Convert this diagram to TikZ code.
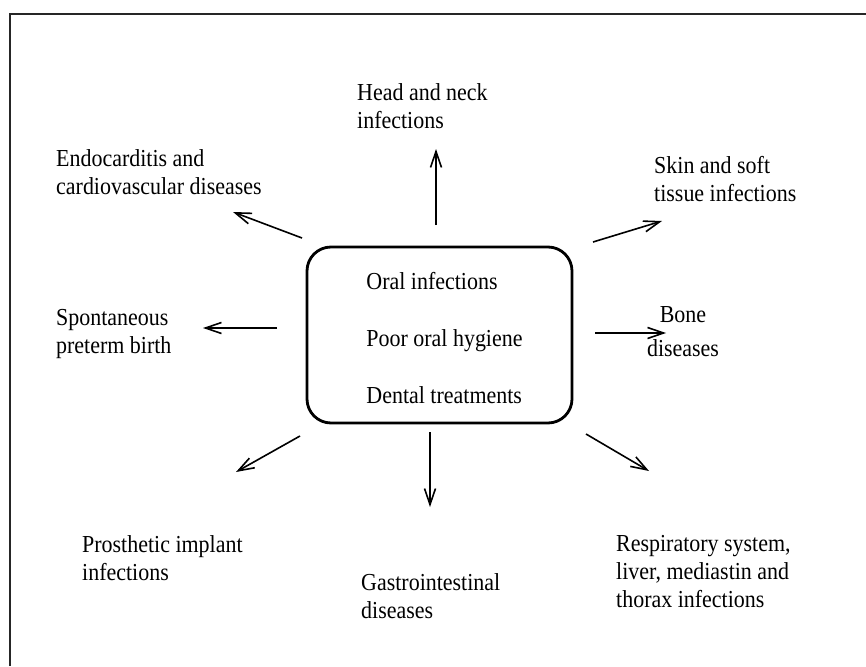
\documentclass[tikz,border=0pt]{standalone}
\usepackage{fontspec}
\setmainfont[FakeStretch=0.9]{Liberation Serif}
\usetikzlibrary{arrows.meta}
\begin{document}
\begin{tikzpicture}[x=1pt,y=-1pt,
  lbl/.style={inner sep=0pt, align=left, anchor=north west, font=\fontsize{24.4}{28}\selectfont},
  srcbox/.style={draw, rounded corners=24pt, line width=2.8pt, minimum width=265pt, minimum height=176pt,
    inner sep=0pt},
  srctext/.style={inner sep=0pt, align=left, font=\fontsize{24.4}{57}\selectfont},
  arr/.style={line width=1.6pt, -{Straight Barb[length=16pt,width=11pt,line width=1.6pt]}}]
\useasboundingbox (0,0) rectangle (866,666);
\draw[line width=2pt, black!85] (10,666) -- (10,14) -- (866,14);

\node[srcbox] (src) at (439.5,335) {};
\node[srctext] (srctxt) at (444.5,338) {Oral infections\\Poor oral hygiene\\Dental treatments};

\node[lbl] (head) at (357,83) {Head and neck\\infections};
\node[lbl] (endo) at (56,149) {Endocarditis and\\cardiovascular diseases};
\node[lbl] (skin) at (654,156) {Skin and soft\\tissue infections};
\node[lbl] (spont) at (56,309) {Spontaneous\\preterm birth};
\node[lbl, align=center, anchor=north, font=\fontsize{24.4}{34}\selectfont] (bone) at (683,306) {Bone\\diseases};
\node[lbl] (prost) at (82,535) {Prosthetic implant\\infections};
\node[lbl] (gastro) at (361,573) {Gastrointestinal\\diseases};
\node[lbl] (resp) at (616,535) {Respiratory system,\\liver, mediastin and\\thorax infections};

\coordinate (a1s) at (436,225); \coordinate (a1e) at (436,149);
\coordinate (a2s) at (302,238); \coordinate (a2e) at (233,212);
\coordinate (a3s) at (277,328); \coordinate (a3e) at (203,328);
\coordinate (a4s) at (593,242); \coordinate (a4e) at (662,221);
\coordinate (a5s) at (595,333); \coordinate (a5e) at (666,333);
\coordinate (a6s) at (300,436); \coordinate (a6e) at (236,472);
\coordinate (a7s) at (430,432); \coordinate (a7e) at (430,507);
\coordinate (a8s) at (586,434); \coordinate (a8e) at (649,471);

\draw[arr] (a1s) -- (a1e);
\draw[arr] (a2s) -- (a2e);
\draw[arr] (a3s) -- (a3e);
\draw[arr] (a4s) -- (a4e);
\draw[arr] (a5s) -- (a5e);
\draw[arr] (a6s) -- (a6e);
\draw[arr] (a7s) -- (a7e);
\draw[arr] (a8s) -- (a8e);
\end{tikzpicture}
\end{document}
